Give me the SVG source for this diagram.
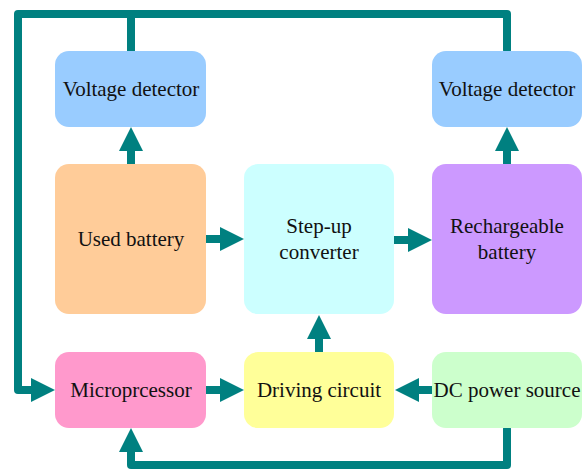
<svg xmlns="http://www.w3.org/2000/svg" width="588" height="470" viewBox="0 0 588 470">
<style>
.box{stroke:none}
.lbl{font-family:'Liberation Serif','Times New Roman',Times,'Nimbus Roman','DejaVu Serif',serif;font-size:21px;fill:#111;text-anchor:middle}
.wire{fill:none;stroke:#008080;stroke-width:8;stroke-linejoin:round;stroke-linecap:round}
.arr{fill:none;stroke:#008080;stroke-width:8;stroke-linecap:butt}
</style>
<defs>
<marker id="ah" viewBox="0 0 24 24" markerUnits="userSpaceOnUse" markerWidth="24" markerHeight="24" refX="2" refY="12" orient="auto">
<path d="M0,0 L24,12 L0,24 Z" fill="#008080"/>
</marker>
</defs>
<rect width="588" height="470" fill="#ffffff"/>
<g id="connectors">
<path class="wire" d="M507,50 V14 H18 V390 H33" marker-end="url(#ah)"/>
<path class="wire" d="M131,14 V51"/>
<path class="wire" d="M507,429 V465 H131 V450" marker-end="url(#ah)"/>
<path class="arr" d="M131,164 V149" marker-end="url(#ah)"/>
<path class="arr" d="M507,164 V149" marker-end="url(#ah)"/>
<path class="arr" d="M206,239 H222" marker-end="url(#ah)"/>
<path class="arr" d="M394,240 H410" marker-end="url(#ah)"/>
<path class="arr" d="M319,352 V337" marker-end="url(#ah)"/>
<path class="arr" d="M433,390 H417" marker-end="url(#ah)"/>
<path class="arr" d="M206,390 H222" marker-end="url(#ah)"/>
</g>
<g id="vd-left"><rect class="box" x="55" y="51" width="151" height="76" rx="14" fill="#99CCFF"/><text class="lbl" x="131" y="96" font-family="Liberation Serif, serif">Voltage detector</text></g>
<g id="vd-right"><rect class="box" x="432" y="51" width="150" height="76" rx="14" fill="#99CCFF"/><text class="lbl" x="507" y="96">Voltage detector</text></g>
<g id="used-battery"><rect class="box" x="55" y="164" width="151" height="150" rx="14" fill="#FFCC99"/><text class="lbl" x="131" y="246">Used battery</text></g>
<g id="step-up"><rect class="box" x="244" y="164" width="150" height="150" rx="14" fill="#CCFFFF"/><text class="lbl" x="319" y="233">Step-up</text><text class="lbl" x="319" y="259">converter</text></g>
<g id="rechargeable"><rect class="box" x="432" y="164" width="150" height="150" rx="14" fill="#CC99FF"/><text class="lbl" x="507" y="233">Rechargeable</text><text class="lbl" x="507" y="259">battery</text></g>
<g id="microprocessor"><rect class="box" x="55" y="352" width="151" height="76" rx="14" fill="#FF99CC"/><text class="lbl" x="131" y="397">Microprcessor</text></g>
<g id="driving"><rect class="box" x="244" y="352" width="150" height="76" rx="14" fill="#FFFF99"/><text class="lbl" x="319" y="397">Driving circuit</text></g>
<g id="dc-source"><rect class="box" x="432" y="352" width="150" height="76" rx="14" fill="#CCFFCC"/><text class="lbl" x="507" y="397">DC power source</text></g>
</svg>
